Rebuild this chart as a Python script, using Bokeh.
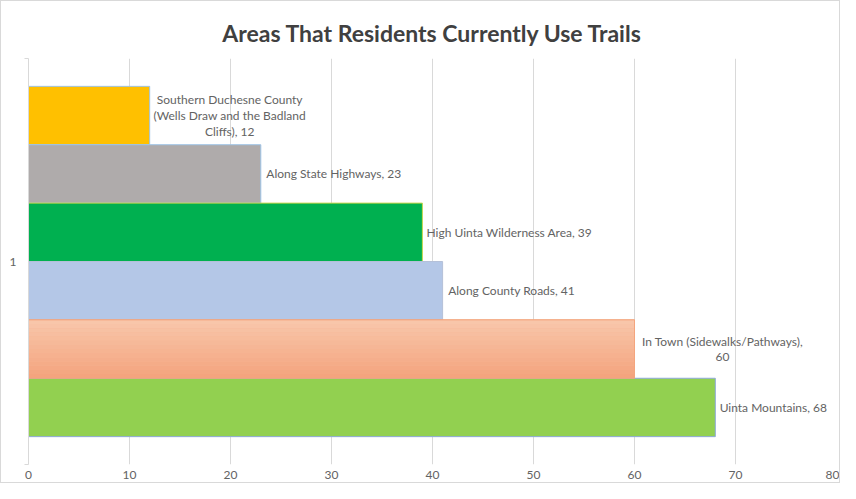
from bokeh.plotting import figure
from bokeh.models import ColumnDataSource, FixedTicker, Range1d
from bokeh.core.properties import value
from bokeh.embed import file_html
from bokeh.resources import INLINE

# ---- data ----
title_text = "Areas That Residents Currently Use Trails"
categories = [
    "Southern Duchesne County (Wells Draw and the Badland Cliffs)",
    "Along State Highways",
    "High Uinta Wilderness Area",
    "Along County Roads",
    "In Town (Sidewalks/Pathways)",
    "Uinta Mountains",
]
values = [12, 23, 39, 41, 60, 68]
label_texts = [
    "Southern Duchesne County\n(Wells Draw and the Badland\nCliffs), 12",
    "Along State Highways, 23",
    "High Uinta Wilderness Area, 39",
    "Along County Roads, 41",
    "In Town (Sidewalks/Pathways),\n60",
    "Uinta Mountains, 68",
]
x_ticks = [0, 10, 20, 30, 40, 50, 60, 70, 80]
y_category_label = "1"

# ---- styles ----
fill_colors = ["#FFC000", "#AFABAB", "#00B050", "#B4C7E7", "#F6B696", "#92D050"]
line_colors = ["#9DC3E6", "#9DC3E6", "#C9D64B", "#B4C0D8", "#F4A57E", "#8EA9DB"]
label_offsets = [80, 73, 87, 69, 88, 58]
FONT = "Lato"
TXT = "#636363"

n = len(values)
gap = 0.0686
h = (1 - 2 * gap) / n
tops = [1 - gap - i * h for i in range(n)]
bottoms = [t - h for t in tops]
centers = [t - h / 2 for t in tops]

p = figure(width=840, height=483, output_backend="svg", toolbar_location=None,
           x_range=Range1d(0, 80), y_range=Range1d(0, 1),
           min_border_left=27, min_border_right=5, min_border_top=57,
           min_border_bottom=20)
p.styles = {"border": "1px solid #D9D9D9", "box-sizing": "border-box"}

p.title.text = title_text
p.title.align = "center"
p.title.text_font = FONT
p.title.text_font_style = "bold"
p.title.text_font_size = "23px"
p.title.text_color = "#404040"
p.title.standoff = 23

p.outline_line_color = None
p.background_fill_color = "white"
p.border_fill_color = "white"

src = ColumnDataSource(dict(cat=categories, val=values, left=[0] * n,
                            top=tops, bottom=bottoms, y=centers,
                            fill=fill_colors, line=line_colors,
                            label=label_texts, off=label_offsets))

p.quad(left="left", right="val", top="top", bottom="bottom", source=src,
       fill_color="fill", line_color="line", line_width=1)

# gradient-like fill for the "In Town" bar (style only)
gi = 4
gtop, gbot, gval = tops[gi], bottoms[gi], values[gi]
steps = 14
c0 = (0xF8, 0xC6, 0xAA)
c1 = (0xF4, 0xA4, 0x7E)
gl, gr, gt, gb, gc = [], [], [], [], []
for k in range(steps):
    f = k / (steps - 1)
    col = "#%02X%02X%02X" % tuple(int(round(c0[j] + (c1[j] - c0[j]) * f)) for j in range(3))
    gl.append(0)
    gr.append(gval)
    gt.append(gtop - k * (gtop - gbot) / steps)
    gb.append(gtop - (k + 1) * (gtop - gbot) / steps)
    gc.append(col)
p.quad(left=gl, right=gr, top=gt, bottom=gb, fill_color=gc, line_color=None)
p.quad(left=[0], right=[gval], top=[gtop], bottom=[gbot], fill_color=None,
       line_color=line_colors[gi], line_width=1)

p.text(x="val", y="y", text="label", source=src, x_offset="off",
       text_align="center", text_baseline="middle",
       text_font=value(FONT), text_font_size="12px", text_color=TXT,
       text_line_height=1.05)

# x axis
p.xaxis.ticker = FixedTicker(ticks=x_ticks)
p.xaxis.axis_line_color = None
p.xaxis.major_tick_line_color = None
p.xaxis.minor_tick_line_color = None
p.xaxis.major_tick_out = 0
p.xaxis.major_label_standoff = 6
p.xaxis.major_label_text_font = FONT
p.xaxis.major_label_text_font_size = "12px"
p.xaxis.major_label_text_color = TXT
p.xgrid.grid_line_color = "#D9D9D9"
p.xgrid.ticker = FixedTicker(ticks=x_ticks)

# y axis
p.yaxis.ticker = FixedTicker(ticks=[0.5], minor_ticks=[0, 1])
p.yaxis.major_label_overrides = {0.5: y_category_label}
p.yaxis.axis_line_color = "#D9D9D9"
p.yaxis.major_tick_line_color = None
p.yaxis.major_tick_out = 4
p.yaxis.minor_tick_line_color = "#D9D9D9"
p.yaxis.minor_tick_out = 4
p.yaxis.minor_tick_in = 0
p.yaxis.major_label_standoff = 8
p.yaxis.major_label_text_font = FONT
p.yaxis.major_label_text_font_size = "12px"
p.yaxis.major_label_text_color = TXT
p.ygrid.grid_line_color = None

open("out.html", "w").write(file_html(p, INLINE))
